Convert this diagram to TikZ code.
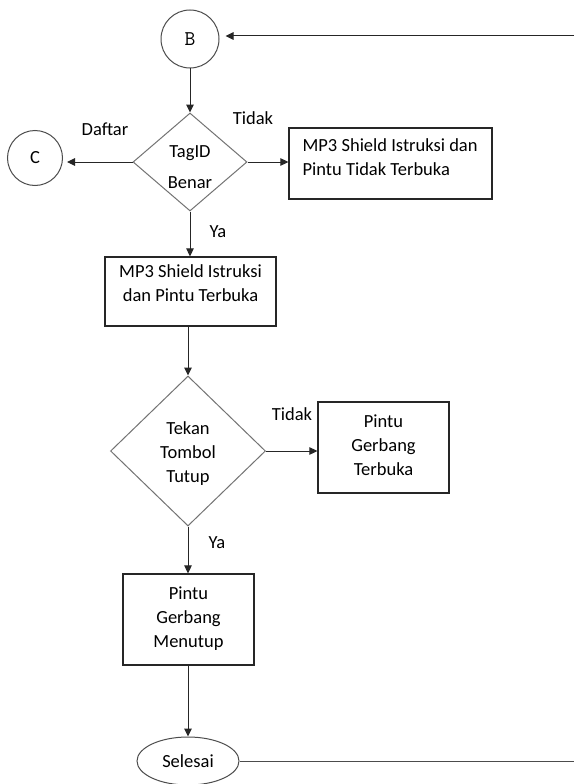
\documentclass[tikz,border=0pt]{standalone}
\usepackage{fontspec}
\setmainfont{Carlito}
\usetikzlibrary{shapes.geometric,arrows.meta}
\begin{document}
\begin{tikzpicture}[x=1pt,y=-1pt,
  every node/.style={font=\fontsize{18.5}{24}\selectfont},
  box/.style={draw=black!85, line width=1.2pt, inner sep=0pt, rectangle},
  dec/.style={draw=black!55, line width=1pt, shape=diamond, inner sep=0pt},
  conn/.style={draw=black!70, line width=1pt, circle, inner sep=0pt},
  term/.style={draw=black!70, line width=1pt, ellipse, inner sep=0pt},
  arr/.style={-{Triangle[length=8pt,width=7.5pt]}, line width=1pt, draw=black!85},
  plain/.style={line width=1pt, draw=black!70},
  txt/.style={align=center, inner sep=0pt, font=\fontsize{18.5}{24}\selectfont},
  lbl/.style={inner sep=0pt}
]
\useasboundingbox (0,0) rectangle (574,784);
\fill[white] (0,0) rectangle (574,784);

% nodes
\node[conn, minimum size=58pt, font=\ttfamily\fontsize{21}{24}\selectfont] (B) at (190,39) {B};
\node[conn, minimum size=55pt] (C) at (35,158) {C};
\node[dec, minimum width=114pt, minimum height=98pt,
      label={[txt, yshift=-5pt]center:TagID\\[7pt]Benar}] (d1) at (190,162) {};
\node[box, minimum width=203pt, minimum height=71pt,
      label={[txt, align=left, anchor=west, xshift=14pt, yshift=6.5pt]west:MP3 Shield Istruksi dan\\Pintu Tidak Terbuka}] (b1) at (390.5,163.5) {};
\node[box, minimum width=171pt, minimum height=69pt,
      label={[txt, yshift=8pt]center:MP3 Shield Istruksi\\dan Pintu Terbuka}] (b2) at (190.5,291.5) {};
\node[dec, minimum width=155pt, minimum height=150pt,
      label={[txt, yshift=-2.5pt]center:Tekan\\Tombol\\Tutup}] (d2) at (188,451) {};
\node[box, minimum width=131pt, minimum height=91pt,
      label={[txt, yshift=2.7pt]center:Pintu\\Gerbang\\Terbuka}] (b3) at (383.5,447.5) {};
\node[box, minimum width=131pt, minimum height=91pt,
      label={[txt, yshift=1pt]center:Pintu\\Gerbang\\Menutup}] (b4) at (188.5,619.5) {};
\node[term, minimum width=102pt, minimum height=48pt] (e) at (188,761) {Selesai};

% edge labels
\node[lbl] (lDaftar) at (105,129) {Daftar};
\node[lbl] (lTidak1) at (253,118) {Tidak};
\node[lbl] (lYa1) at (218,232) {Ya};
\node[lbl] (lTidak2) at (292,414) {Tidak};
\node[lbl] (lYa2) at (217,543) {Ya};

% free ends at right edge
\coordinate (rtop) at (574,36);
\coordinate (rbot) at (574,761);

% connectors
\draw[arr, shorten >=6pt] (rtop) -- (rtop -| B.east);
\draw[arr] (B.south) -- (d1.north);
\draw[arr, shorten >=4pt] (d1.west) -- (d1.west -| C.east);
\draw[arr] (d1.east) -- (d1.east -| b1.west);
\draw[arr] (d1.south) -- (d1.south |- b2.north);
\draw[arr] (b2.south -| d2.north) -- (d2.north);
\draw[arr] (d2.east) -- (d2.east -| b3.west);
\draw[arr] (d2.south) -- (d2.south |- b4.north);
\draw[arr] (b4.south -| e.north) -- (e.north);
\draw[plain] (e.east) -- (rbot);
\end{tikzpicture}
\end{document}
